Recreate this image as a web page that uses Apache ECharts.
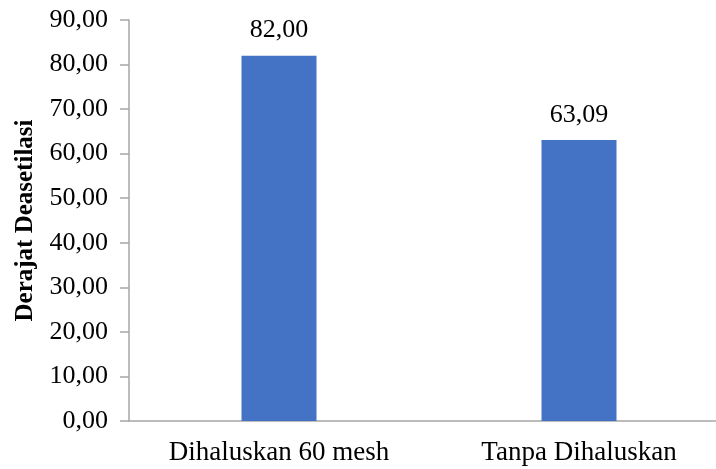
<!DOCTYPE html>
<html>
<head>
<meta charset="utf-8">
<script src="https://cdn.jsdelivr.net/npm/echarts@6/dist/echarts.min.js"></script>
<style>
  html, body { margin: 0; padding: 0; background: #ffffff; }
  #chart { width: 716px; height: 469px; }
</style>
</head>
<body>
<div id="chart"></div>
<script>
// Degree of deacetylation for two sample treatments
const categories = ['Dihaluskan 60 mesh', 'Tanpa Dihaluskan'];
const values = [82.00, 63.09];
const yTicks = { min: 0, max: 90, step: 10 };

const fontFamily = '"Liberation Serif", "Times New Roman", serif';
const fmt = v => v.toFixed(2).replace('.', ',');

const chart = echarts.init(document.getElementById('chart'));
chart.setOption({
  animation: false,
  backgroundColor: '#ffffff',
  // plot area runs slightly past the right edge of the canvas
  grid: { left: 129, width: 600, top: 20, bottom: 48, containLabel: false, outerBoundsMode: 'none' },
  xAxis: {
    type: 'category',
    data: categories,
    axisLine: { show: true, lineStyle: { color: '#a6a6a6', width: 1.5 } },
    axisTick: { show: false },
    axisLabel: { color: '#000', fontFamily, fontSize: 27, margin: 18 }
  },
  yAxis: {
    type: 'value',
    min: yTicks.min,
    max: yTicks.max,
    interval: yTicks.step,
    name: 'Derajat Deasetilasi',
    nameLocation: 'middle',
    nameGap: 91,
    nameTextStyle: { color: '#000', fontFamily, fontSize: 25, fontWeight: 'bold' },
    splitLine: { show: false },
    axisLine: { show: true, lineStyle: { color: '#a6a6a6', width: 1.5 } },
    axisTick: { show: true, inside: false, length: 9, lineStyle: { color: '#a6a6a6', width: 1.5 } },
    axisLabel: { color: '#000', fontFamily, fontSize: 26, margin: 21, formatter: fmt }
  },
  series: [{
    type: 'bar',
    data: values,
    barWidth: 75,
    itemStyle: { color: '#4472c4' },
    label: {
      show: true,
      position: 'top',
      distance: 12,
      color: '#000',
      fontFamily,
      fontSize: 26,
      formatter: p => fmt(p.value)
    }
  }]
});
</script>
</body>
</html>
